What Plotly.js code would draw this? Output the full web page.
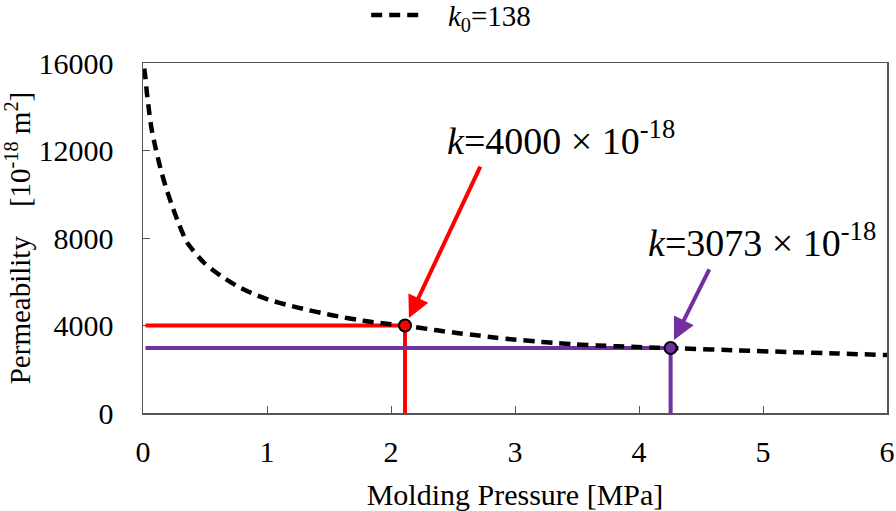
<!DOCTYPE html>
<html>
<head>
<meta charset="utf-8">
<script src="https://cdn.plot.ly/plotly-3.0.1.min.js"></script>
<style>html,body{margin:0;padding:0;background:#fff;}#chart{width:896px;height:511px;}</style>
</head>
<body>
<div id="chart"></div>
<script>
// Curve k0=138 (pressure in MPa, permeability in 1e-18 m^2)
const pressure = [0.01, 0.02, 0.03, 0.05, 0.07, 0.10, 0.14, 0.18, 0.23, 0.285, 0.355, 0.49, 0.63, 0.76, 0.9, 1.03, 1.17, 1.33, 1.45, 1.58, 1.73, 1.86, 2.0, 2.113, 2.37, 2.53, 2.69, 2.85, 3.01, 3.17, 3.33, 3.49, 3.66, 3.82, 3.98, 4.15, 4.35, 4.8, 5.2, 5.6, 6.0];
const permeability = [15750, 15300, 14700, 13750, 12950, 12150, 11200, 10400, 9550, 8700, 7800, 6880, 6260, 5800, 5420, 5150, 4930, 4710, 4560, 4410, 4260, 4150, 4060, 3995, 3780, 3660, 3550, 3440, 3350, 3270, 3200, 3140, 3090, 3050, 3015, 2985, 2950, 2860, 2790, 2720, 2650];
// Highlighted points
const redPoint = {p: 2.113, k: 4000};
const purplePoint = {p: 4.255, k: 2970};
const redLabel = '<i>k</i>=4000 × 10<sup>-18</sup>';
const purpleLabel = '<i>k</i>=3073 × 10<sup>-18</sup>';
const legendName = '&nbsp;&nbsp;&nbsp;<i>k</i><sub>0</sub>=138';
const xTicks = [0, 1, 2, 3, 4, 5, 6];
const yTicks = [0, 4000, 8000, 12000, 16000];
// arrow tail / tip positions (data units)
const redArrow = {tail: [2.726, 11330], tip: [2.145, 4343]};
const purpleArrow = {tail: [4.573, 6630], tip: [4.282, 3337]};

const RED = '#FF0000', PURPLE = '#7030A0';
const FONT = 'Liberation Serif, Times New Roman, serif';

const traces = [
  {x: [0.02, redPoint.p, redPoint.p], y: [redPoint.k, redPoint.k, 0], mode: 'lines',
   line: {color: RED, width: 4}, showlegend: false, hoverinfo: 'skip'},
  {x: [0.02, purplePoint.p, purplePoint.p], y: [purplePoint.k, purplePoint.k, 0], mode: 'lines',
   line: {color: PURPLE, width: 4}, showlegend: false, hoverinfo: 'skip'},
  {x: pressure, y: permeability, mode: 'lines', name: legendName,
   line: {color: '#000', width: 4.5, dash: '11px,7px', shape: 'spline', smoothing: 0.6}},
  {x: [redPoint.p], y: [redPoint.k], mode: 'markers', showlegend: false,
   marker: {color: RED, size: 12, line: {color: '#000', width: 2}}},
  {x: [purplePoint.p], y: [purplePoint.k], mode: 'markers', showlegend: false,
   marker: {color: PURPLE, size: 12, line: {color: '#000', width: 2}}}
];

const layout = {
  width: 896, height: 511,
  margin: {l: 143, r: 9, t: 63, b: 98, autoexpand: false},
  paper_bgcolor: '#fff', plot_bgcolor: '#fff',
  font: {family: FONT, color: '#000', size: 30},
  showlegend: true,
  legend: {orientation: 'h', x: 0.30, xanchor: 'left', y: 1.137, yanchor: 'middle',
           itemwidth: 50, font: {family: FONT, size: 29, color: '#000'}, bgcolor: 'rgba(0,0,0,0)'},
  xaxis: {range: [0, 6], tickvals: xTicks, ticks: 'inside', ticklen: 7, tickcolor: '#555',
          showline: true, mirror: true, linecolor: '#555', linewidth: 1.5, showgrid: false, zeroline: false,
          tickfont: {family: FONT, size: 30, color: '#000'}, ticklabelstandoff: 11,
          title: {text: 'Molding Pressure [MPa]', font: {family: FONT, size: 30, color: '#000'}, standoff: 18}},
  yaxis: {range: [0, 16000], tickvals: yTicks, tickformat: 'd', ticks: 'inside', ticklen: 7, tickcolor: '#555',
          showline: true, mirror: true, linecolor: '#555', linewidth: 1.5, showgrid: false, zeroline: false,
          tickfont: {family: FONT, size: 30, color: '#000'}, ticklabelstandoff: 22,
          title: {text: 'Permeability&nbsp;&nbsp;&nbsp;&nbsp;[10<sup>-18</sup> m<sup>2</sup>]', font: {family: FONT, size: 29, color: '#000'}, standoff: 6}},
  annotations: [
    {x: redArrow.tip[0], y: redArrow.tip[1], ax: redArrow.tail[0], ay: redArrow.tail[1],
     axref: 'x', ayref: 'y', xref: 'x', yref: 'y', text: '', showarrow: true,
     arrowhead: 2, arrowsize: 1.1, arrowwidth: 4, arrowcolor: RED},
    {x: purpleArrow.tip[0], y: purpleArrow.tip[1], ax: purpleArrow.tail[0], ay: purpleArrow.tail[1],
     axref: 'x', ayref: 'y', xref: 'x', yref: 'y', text: '', showarrow: true,
     arrowhead: 2, arrowsize: 1.1, arrowwidth: 4, arrowcolor: PURPLE},
    {x: 3.37, y: 12550, xref: 'x', yref: 'y', text: redLabel, showarrow: false,
     font: {family: FONT, size: 38, color: '#000'}},
    {x: 4.99, y: 7900, xref: 'x', yref: 'y', text: purpleLabel, showarrow: false,
     font: {family: FONT, size: 38, color: '#000'}}
  ]
};

Plotly.newPlot('chart', traces, layout, {displayModeBar: false, staticPlot: true});
</script>
</body>
</html>
